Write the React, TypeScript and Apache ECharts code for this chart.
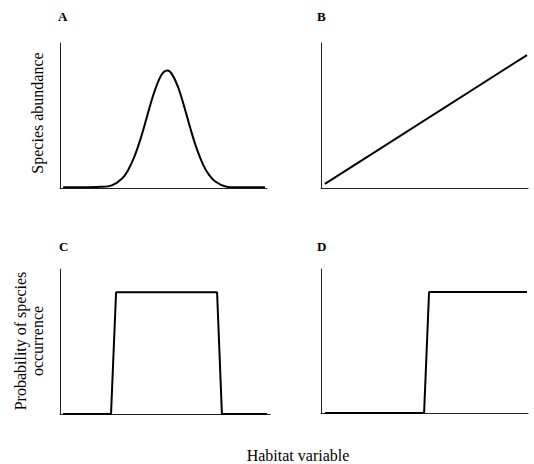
import React, { useEffect, useRef } from "react";
import * as echarts from "echarts";

// Panel A: unimodal abundance response
const aX = [1.5, 10, 20, 25, 30, 33, 36, 39, 42, 45, 48, 50, 52, 54, 57, 60, 63, 66, 69, 72, 75, 80, 85, 99];
const aY = [0.005, 0.005, 0.008, 0.018, 0.066, 0.126, 0.219, 0.343, 0.491, 0.638, 0.753, 0.798, 0.81, 0.787, 0.698, 0.561, 0.41, 0.273, 0.165, 0.09, 0.045, 0.011, 0.005, 0.005];
// Panel B: linear response
const bX = [1.9, 99.5];
const bY = [0.028, 0.917];
// Panel C: box-shaped occurrence
const cX = [1.4, 24.3, 26.7, 74.8, 77.1, 98.6];
const cY = [0.0, 0.0, 0.84, 0.84, 0.0, 0.0];
// Panel D: step occurrence
const dX = [1.9, 49.8, 52.2, 99.5];
const dY = [0.0, 0.0, 0.84, 0.84];

const panelLabels = ["A", "B", "C", "D"];
const yLabelTop = "Species abundance";
const yLabelBottom = "Probability of species\noccurrence";
const xLabel = "Habitat variable";

const FONT = "'Liberation Serif', 'DejaVu Serif', serif";

function pairs(xs: number[], ys: number[]) {
  return xs.map((x, i) => [x, ys[i]]);
}

export default function App() {
  const ref = useRef<HTMLDivElement>(null);
  useEffect(() => {
    if (!ref.current) return;
    const chart = echarts.init(ref.current, null, { renderer: "svg" });
    const grids = [
      { left: 60, top: 43, width: 207, height: 145 },
      { left: 321, top: 43, width: 207, height: 145 },
      { left: 60, top: 269, width: 210, height: 145 },
      { left: 321, top: 269, width: 207, height: 144 },
    ];
    const axisLine = { show: true, lineStyle: { color: "#222", width: 1 } };
    const xAxis = grids.map((_, i) => ({
      type: "value",
      gridIndex: i,
      min: 0,
      max: 100,
      axisLine: { ...axisLine, onZero: false },
      axisTick: { show: false },
      axisLabel: { show: false },
      splitLine: { show: false },
    }));
    const yAxis = grids.map((_, i) => ({
      type: "value",
      gridIndex: i,
      min: 0,
      max: 1,
      axisLine,
      axisTick: { show: false },
      axisLabel: { show: false },
      splitLine: { show: false },
    }));
    const datas = [pairs(aX, aY), pairs(bX, bY), pairs(cX, cY), pairs(dX, dY)];
    const series = datas.map((d, i) => ({
      type: "line",
      xAxisIndex: i,
      yAxisIndex: i,
      data: d,
      smooth: i === 0 ? 0.4 : false,
      showSymbol: false,
      symbol: "none",
      lineStyle: { color: "#000", width: 2 },
    }));
    const labelPos = [
      [58, 16],
      [317, 16],
      [59, 246],
      [317, 246],
    ];
    const graphic: any[] = panelLabels.map((t, i) => ({
      type: "text",
      x: labelPos[i][0],
      y: labelPos[i][1],
      style: {
        text: t,
        font: `bold 13px ${FONT}`,
        fill: "#000",
        textAlign: "left",
        textVerticalAlign: "middle",
      },
    }));
    graphic.push(
      {
        type: "text",
        x: 37,
        y: 113,
        rotation: Math.PI / 2,
        style: {
          text: yLabelTop,
          font: `16px ${FONT}`,
          fill: "#000",
          textAlign: "center",
          textVerticalAlign: "middle",
        },
      },
      {
        type: "text",
        x: 28.5,
        y: 341,
        rotation: Math.PI / 2,
        style: {
          text: yLabelBottom,
          font: `16px ${FONT}`,
          lineHeight: 17,
          fill: "#000",
          textAlign: "center",
          textVerticalAlign: "middle",
        },
      },
      {
        type: "text",
        x: 298,
        y: 455,
        style: {
          text: xLabel,
          font: `16px ${FONT}`,
          fill: "#000",
          textAlign: "center",
          textVerticalAlign: "middle",
        },
      }
    );
    chart.setOption({
      animation: false,
      backgroundColor: "#fff",
      grid: grids,
      xAxis,
      yAxis,
      series,
      graphic,
    });
    return () => chart.dispose();
  }, []);
  return (
    <div
      ref={ref}
      style={{ position: "absolute", left: 0, top: 0, width: 534, height: 464 }}
    />
  );
}
